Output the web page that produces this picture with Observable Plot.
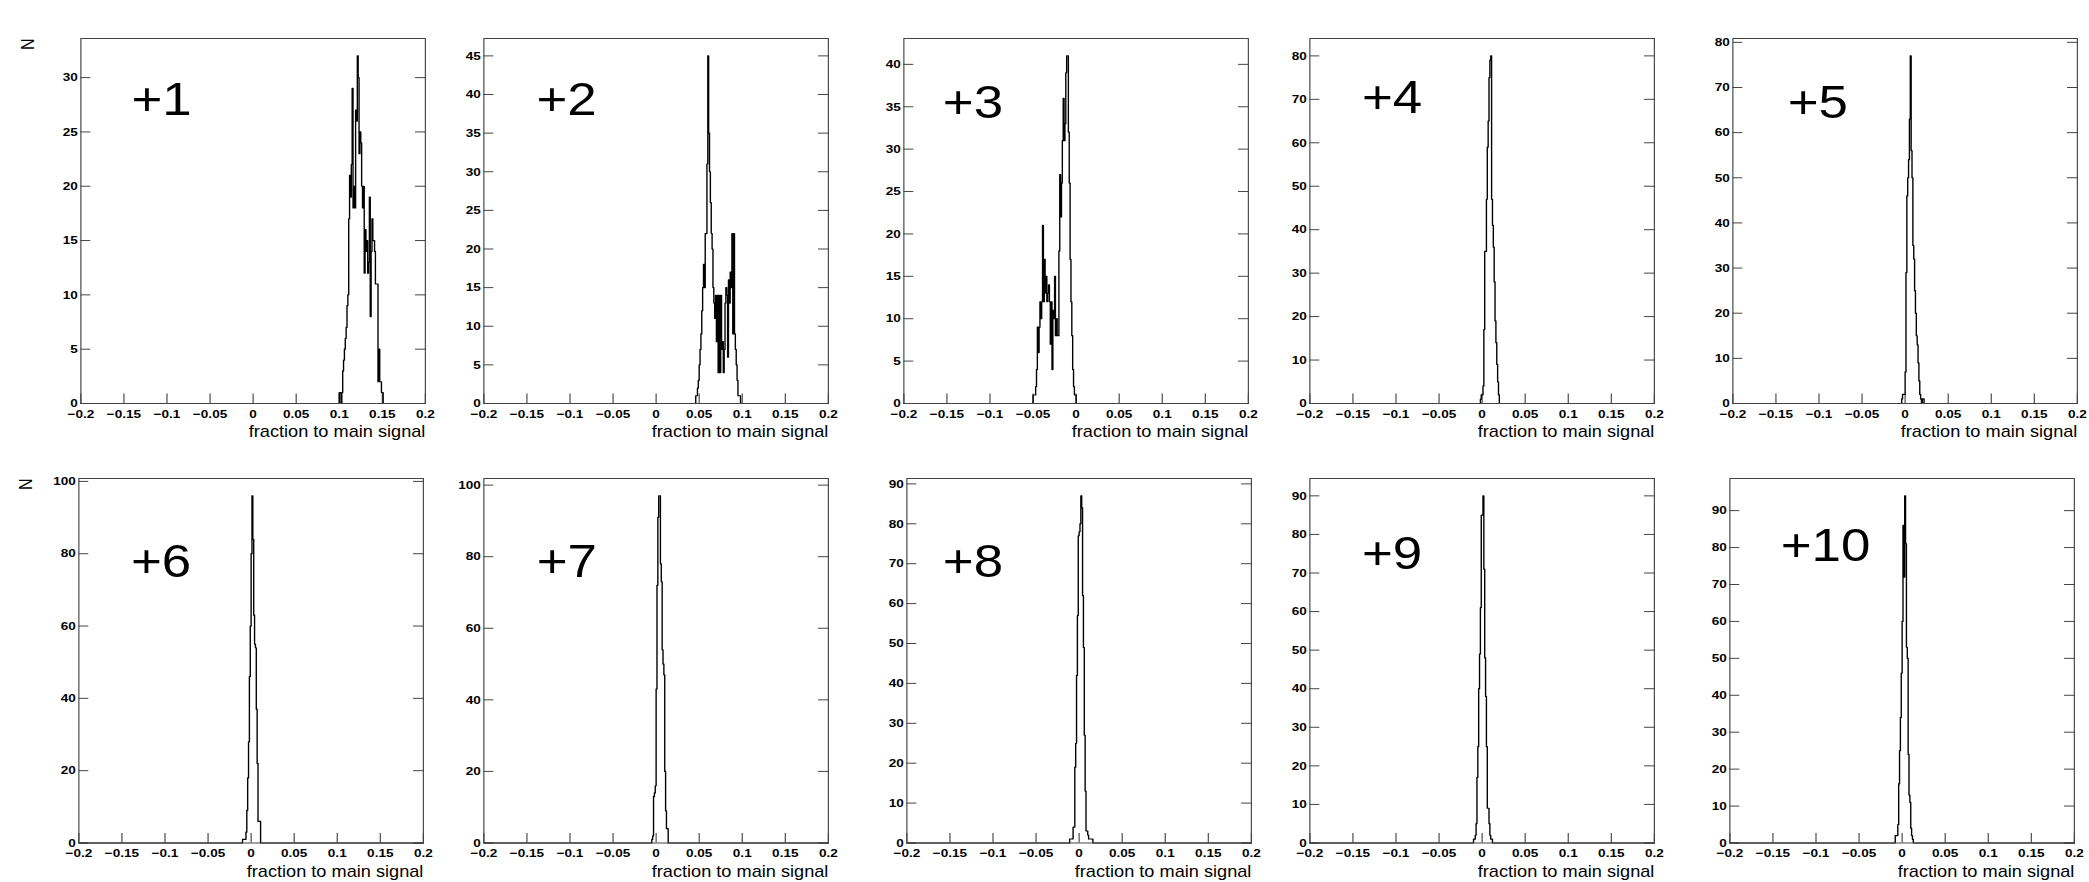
<!DOCTYPE html>
<html><head><meta charset="utf-8">
<script src="https://cdn.jsdelivr.net/npm/d3@7"></script>
<script src="https://cdn.jsdelivr.net/npm/@observablehq/plot@0.6"></script>
<style>
html,body{margin:0;padding:0;background:#fff;}
#root{position:relative;width:2089px;height:882px;overflow:hidden;background:#fff;}
.panel{position:absolute;transform-origin:0 0;}
.panel svg{overflow:visible;}
</style></head><body><div id="root"></div>
<script>
// ---------------- data ----------------
const panelLabels = ["+1", "+2", "+3", "+4", "+5", "+6", "+7", "+8", "+9", "+10"];
const xTicks = [-0.2, -0.15, -0.1, -0.05, 0, 0.05, 0.1, 0.15, 0.2];
const yTickStep = [5, 5, 5, 10, 10, 20, 20, 10, 10, 10];
const xTitle = "fraction to main signal";
const yTitle = "N";
const binWidth = 0.001;

// first bin left edge of each histogram
const histStart = [0.100, 0.046, -0.050, -0.002, -0.004, -0.010, -0.005, -0.011, -0.010, -0.008];

const counts1 = [1,1,0,1,3,4,5,6,7,9,10,17,21,19,22,29,18,20,18,27,26,32,30,23,25,24,20,18,20,12,16,14,15,12,13,19,8,14,17,15,15,14,11,11,11,2,5,2,2,1,1];
const counts2 = [1,1,2,3,5,7,9,12,15,18,15,22,22,31,45,35,30,26,22,20,15,13,11,14,8,14,4,14,4,14,7,8,4,7,13,15,14,6,16,13,17,15,22,9,22,9,7,5,3,1,1,1];
const counts3 = [1,1,1,2,4,9,6,9,12,10,12,21,12,17,13,15,12,13,14,12,7,12,4,11,10,15,8,10,8,8,18,27,22,26,31,36,31,33,39,41,41,32,26,17,12,8,4,2,1,1];
const counts4 = [1,2,2,4,17,35,35,47,59,65,75,79,80,47,41,36,28,19,14,9,5,2];
const counts5 = [1,2,2,2,7,29,46,50,54,63,77,56,50,35,32,25,20,15,13,9,5,2,1,0,1,1];
const counts6 = [1,1,1,1,3,9,18,28,46,60,80,96,84,63,55,54,37,22,6,6,6];
const counts7 = [1,2,13,14,16,43,72,91,97,97,78,73,54,50,47,20,9,4,4];
const counts8 = [1,1,1,1,4,4,19,25,42,57,77,78,80,87,84,62,49,27,13,3,3,2,1,1,1,1,1];
const counts9 = [1,1,2,5,17,25,40,49,61,85,85,90,71,48,38,25,9,9,5,2,1,1];
const counts10 = [2,2,2,5,16,25,34,46,60,86,72,94,81,53,50,24,13,11,4,2,1];
const allCounts = [counts1, counts2, counts3, counts4, counts5, counts6, counts7, counts8, counts9, counts10];

// ---------------- layout ----------------
const S = 1.15;                 // horizontal stretch of the original canvas
const frameLeft = [80, 483.3, 903.3, 1309, 1732.3, 78.3, 483.3, 906.3, 1309, 1729.3];
const rowTop = [38, 477.5];
const frameW = 344.5, frameH = [365, 364.5];
const mL = 62, mR = 30, mT = 20, mB = 50;
const labelDx = [44, 45.7, 33.8, 45.3, 47.7, 45.3, 45.9, 31.2, 45.3, 44.2];
const labelDy = [77, 77, 80, 75, 80, 98.5, 98.5, 98.5, 90.5, 82.5];

const fmt = d => d === 0 ? "0" : (d < 0 ? "\u2212" : "") + String(Math.abs(d));

function stepPoints(start, counts) {
  const pts = [{x: -0.2, y: 0}];
  counts.forEach((c, i) => pts.push({x: start + i * binWidth, y: c}));
  pts.push({x: start + counts.length * binWidth, y: 0});
  pts.push({x: 0.2, y: 0});
  return pts;
}

const root = document.getElementById("root");
allCounts.forEach((counts, k) => {
  const row = k < 5 ? 0 : 1;
  const fw = frameW / S, fh = frameH[row];
  const ymax = d3.max(counts) * 1.05;
  const yTicks = d3.range(0, ymax, yTickStep[k]);
  const pts = stepPoints(histStart[k], counts);
  const marks = [
    Plot.axisX({ticks: xTicks, tickFormat: fmt, tickSize: -9.5, tickPadding: 15.5, label: null, stroke: "#444", fill: "black"}),
    Plot.axisY({ticks: yTicks, anchor: "left", tickSize: -8.7, tickPadding: 11.3, label: null, stroke: "#444", fill: "black"}),
    Plot.axisY({ticks: yTicks, anchor: "right", tickSize: -9.5, tickFormat: () => "", label: null, stroke: "#444"}),
    Plot.line(pts, {x: "x", y: "y", curve: "step-after", stroke: "black", strokeWidth: 1.2}),
    Plot.frame({stroke: "#444", strokeWidth: 1}),
    Plot.text([xTitle], {frameAnchor: "bottom-right", textAnchor: "end", lineAnchor: "bottom", dy: 34, fontSize: 15.8, fontWeight: "normal", fill: "black"}),
    Plot.text([panelLabels[k]], {frameAnchor: "top-left", textAnchor: "start", lineAnchor: "bottom", dx: labelDx[k], dy: labelDy[k], fontSize: 46, fontWeight: "normal", fontFamily: "'Liberation Sans', Arial, sans-serif", fill: "black"})
  ];
  if (k === 0 || k === 5) {
    marks.push(Plot.text([yTitle], {frameAnchor: "top-left", rotate: -90, textAnchor: "end", lineAnchor: "middle", dx: -46, fontSize: 16, fontWeight: "normal", fill: "black"}));
  }
  const chart = Plot.plot({
    width: mL + fw + mR,
    height: mT + fh + mB,
    marginLeft: mL, marginRight: mR, marginTop: mT, marginBottom: mB,
    x: {domain: [-0.2, 0.2]},
    y: {domain: [0, ymax]},
    style: {fontFamily: "'Liberation Sans', Arial, sans-serif", fontSize: "11.8px", fontWeight: "bold", background: "transparent", color: "black", overflow: "visible"},
    marks
  });
  const div = document.createElement("div");
  div.className = "panel";
  div.style.left = (frameLeft[k] - mL * S) + "px";
  div.style.top = (rowTop[row] - mT) + "px";
  div.style.transform = `scaleX(${S})`;
  div.appendChild(chart);
  root.appendChild(div);
});
</script>
</body></html>
